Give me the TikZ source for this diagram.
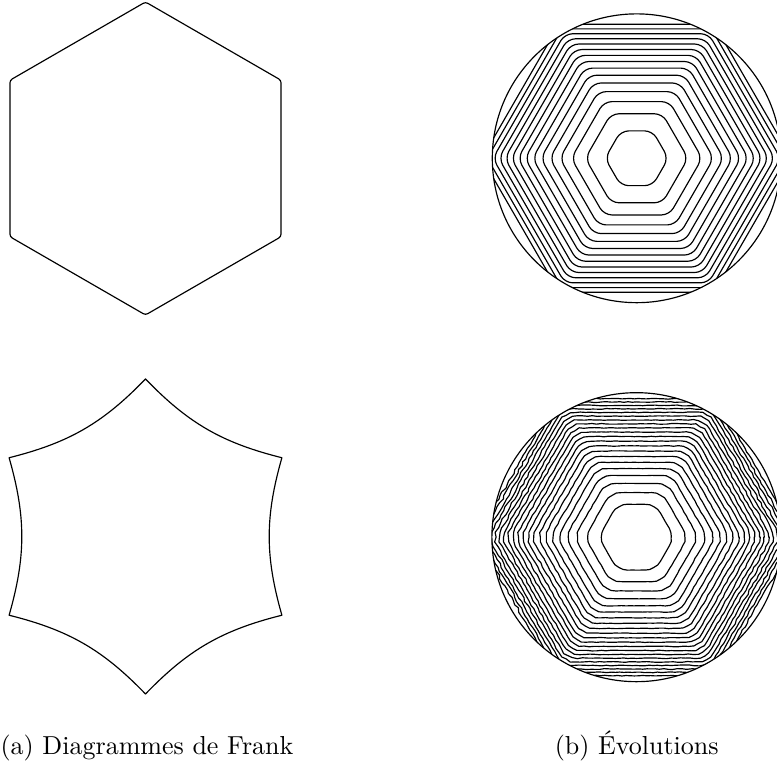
\documentclass[tikz,border=0pt]{standalone}
\usepackage{fontspec}
\usepackage{tikz}
\usetikzlibrary{calc}

\begin{document}
\begin{tikzpicture}[
  x=0.3846pt, y=0.3846pt,
  front/.style={line width=0.45pt, line join=round}
]
  \pgfmathsetseed{7}
  \useasboundingbox (0,0) rectangle (777,767);

  \coordinate (frank) at (145.5,608.5);
  \coordinate (star)  at (145.5,230.5);
  \coordinate (evoa)  at (636.7,608.7);
  \coordinate (evob)  at (636.4,229.8);

  % Frank diagram: regular hexagon
  \draw[front, rounded corners=1pt] ($(frank)+(90:156.5)$)
    \foreach \a in {150,210,...,390} { -- ($(frank)+(\a:156.5)$) } -- cycle;

  % Frank diagram: concave star
  \draw[front] ($(star)+(90:157.5)$)
    \foreach \a in {150,210,...,450} { to[bend left=16] ($(star)+(\a:157.5)$) } -- cycle;

  % Evolutions, first run
  \begin{scope}
    \clip (evoa) circle[radius=144.4];
    \foreach \k in {0,...,14}{
      \pgfmathsetmacro{\r}{10*sqrt(7.5+12.3*\k)/sin(60)}
      \draw[front, rounded corners=3pt] ($(evoa)+(0:\r)$)
        \foreach \a in {60,120,...,300} { -- ($(evoa)+(\a:\r)$) } -- cycle;
    }
  \end{scope}
  \draw[front] (evoa) circle[radius=144.4];

  % Evolutions, second run (noisy)
  \begin{scope}
    \clip (evob) circle[radius=144.5];
    \foreach \k in {0,...,20}{
      \pgfmathsetmacro{\h}{10*sqrt(10.82+9.05*\k)}
      \pgfmathtruncatemacro{\n}{6*round(\h/4)}
      \pgfmathsetmacro{\w}{0.3+0.9*\k/20}
      \draw[front] ($(evob)+(0:{\h/cos(30)-3})$)
        \foreach \i in {1,...,\n} {
          -- ($(evob)+({360*(\i/\n)}:{min(\h/cos(mod(360*(\i/\n),60)-30),\h/cos(30)-3)+\w*(0.25+0.75*abs(cos(360*(\i/\n))))*(2*rnd-1)})$)
        } -- cycle;
    }
  \end{scope}
  \draw[front] (evob) circle[radius=144.5];

  % Captions
  \node[anchor=base, inner sep=0pt] (capa) at (147,12) {(a) Diagrammes de Frank};
  \node[anchor=base, inner sep=0pt] (capb) at (636.7,12) {(b) Évolutions};
\end{tikzpicture}
\end{document}
